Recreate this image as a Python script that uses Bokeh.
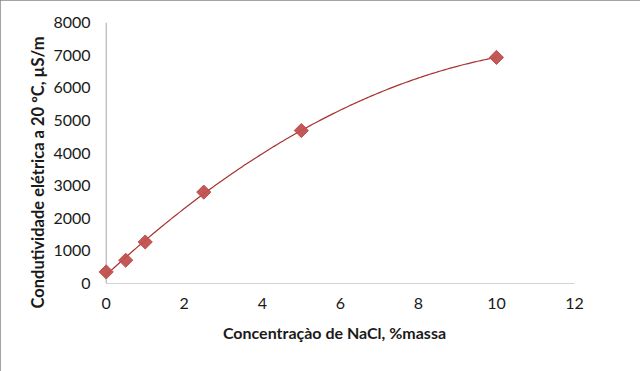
import numpy as np
from bokeh.plotting import figure
from bokeh.models import FixedTicker, Range1d, Title
from bokeh.embed import file_html
from bokeh.resources import INLINE

# Data
conc = [0, 0.5, 1, 2.5, 5, 10]
cond = [355, 713, 1272, 2801, 4688, 6930]
x_ticks = [0, 2, 4, 6, 8, 10, 12]
y_ticks = [0, 1000, 2000, 3000, 4000, 5000, 6000, 7000, 8000]
x_title = "Concentraçào de NaCl, %massa"
y_title = "Condutividade elétrica a 20 ºC, µS/m"

# Polynomial (order 2) trendline fitted to the data, as in the original
coef = np.polyfit(conc, cond, 2)
fit_x = np.linspace(min(conc), max(conc), 200)
fit_y = np.polyval(coef, fit_x)

FONT = "Lato"
MARK = "#C0504D"
LINE = "#A8312F"
AXIS = "#A6A6A6"
TXT = "#1a1a1a"

p = figure(width=640, height=371, output_backend="svg", toolbar_location=None,
           x_range=Range1d(-0.3, 12), y_range=Range1d(0, 8000),
           min_border_left=94, min_border_right=66, min_border_top=22,
           min_border_bottom=88)
p.outline_line_color = None
p.xgrid.visible = False
p.ygrid.visible = False
p.styles = {"outline": "1px solid #868686", "outline-offset": "-1px"}

# axis lines at data origin
p.segment(x0=[0], y0=[0], x1=[12], y1=[0], line_color=AXIS, line_width=1)
p.segment(x0=[0], y0=[0], x1=[0], y1=[8000], line_color=AXIS, line_width=1)

p.line(fit_x, fit_y, line_color=LINE, line_width=1.2)
p.scatter(conc, cond, marker="square", angle=np.pi / 4, size=10,
          fill_color=MARK, line_color=MARK, fill_alpha=0.95)

for ax in (p.xaxis[0], p.yaxis[0]):
    ax.axis_line_color = None
    ax.major_tick_line_color = None
    ax.minor_tick_line_color = None
    ax.major_tick_out = 0
    ax.major_tick_in = 0
    ax.major_label_text_font = FONT
    ax.major_label_text_font_size = "16px"
    ax.major_label_text_color = TXT
    ax.axis_label_text_font = FONT
    ax.axis_label_text_font_size = "16px"
    ax.axis_label_text_font_style = "bold"
    ax.axis_label_text_color = TXT

p.xaxis.ticker = FixedTicker(ticks=x_ticks)
p.yaxis.ticker = FixedTicker(ticks=y_ticks)
p.xaxis.axis_label = x_title
p.xaxis.major_label_standoff = 14
p.xaxis.axis_label_standoff = 11
p.yaxis.major_label_standoff = 4

# y title as a side title so it can be shifted along the axis like the original
p.add_layout(Title(text=y_title, align="left", offset=-25, standoff=5,
                   text_font=FONT, text_font_size="16.5px",
                   text_font_style="bold", text_color=TXT), "left")

open("out.html", "w").write(file_html(p, INLINE))
